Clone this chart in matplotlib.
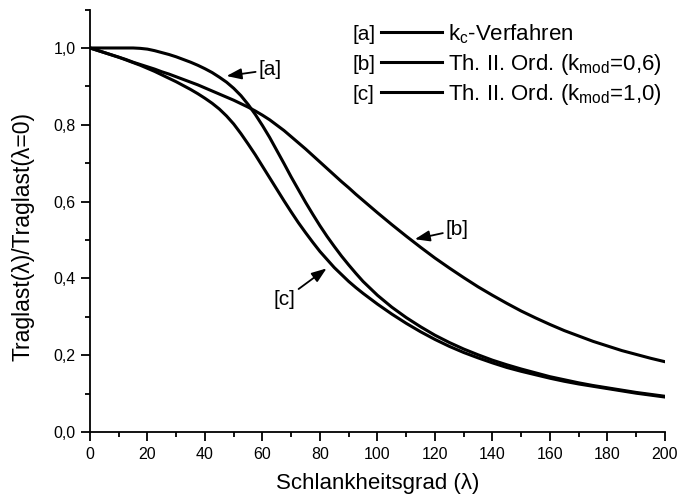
import matplotlib
matplotlib.use('Agg')
import matplotlib.pyplot as plt
from matplotlib.ticker import MultipleLocator

plt.rcParams['font.family'] = ['Liberation Sans', 'DejaVu Sans']
plt.rcParams['mathtext.fontset'] = 'custom'
plt.rcParams['mathtext.rm'] = 'Liberation Sans'
plt.rcParams['mathtext.it'] = 'Liberation Sans:italic'

# Schlankheitsgrad lambda (sample positions, finer where the curves bend)
lam = [0, 2.5, 5, 7.5, 10, 12.5, 15, 17.5, 20, 22.5, 25, 27.5, 30, 32.5, 35,
       37.5, 40, 42.5, 45, 47.5, 50, 52.5, 55, 57.5, 60, 62.5, 65, 67.5, 70,
       72.5, 75, 77.5, 80, 82.5, 85, 87.5, 90, 92.5, 95, 97.5, 100,
       105, 110, 115, 120, 125, 130, 135, 140, 145, 150, 155, 160, 165, 170,
       175, 180, 185, 190, 195, 200]

# [a] k_c-Verfahren
kc = [1.000, 1.000, 1.000, 1.000, 1.000, 1.000, 1.000, 0.999, 0.997, 0.993,
      0.988, 0.983, 0.977, 0.970, 0.963, 0.955, 0.946, 0.936, 0.924, 0.911,
      0.895, 0.876, 0.853, 0.827, 0.798, 0.767, 0.733, 0.699, 0.664, 0.631,
      0.598, 0.567, 0.537, 0.509, 0.483, 0.458, 0.435, 0.413, 0.392, 0.374,
      0.356,
      0.325, 0.298, 0.274, 0.252, 0.233, 0.216, 0.201, 0.187, 0.175, 0.164,
      0.154, 0.144, 0.136, 0.128, 0.121, 0.115, 0.109, 0.103, 0.098, 0.093]
# [b] Th. II. Ord. kmod=0,6
th2_06 = [1.000, 0.994, 0.988, 0.982, 0.976, 0.970, 0.963, 0.957, 0.951, 0.945,
          0.938, 0.932, 0.925, 0.918, 0.911, 0.904, 0.896, 0.888, 0.880, 0.872,
          0.864, 0.855, 0.846, 0.836, 0.825, 0.813, 0.799, 0.785, 0.769, 0.753,
          0.737, 0.720, 0.703, 0.686, 0.669, 0.652, 0.636, 0.619, 0.603, 0.587,
          0.571,
          0.540, 0.510, 0.481, 0.453, 0.427, 0.402, 0.378, 0.356, 0.335, 0.315,
          0.297, 0.280, 0.264, 0.250, 0.236, 0.224, 0.212, 0.202, 0.192, 0.183]
# [c] Th. II. Ord. kmod=1,0
th2_10 = [1.000, 0.994, 0.988, 0.982, 0.976, 0.969, 0.962, 0.955, 0.947, 0.939,
          0.930, 0.921, 0.912, 0.902, 0.892, 0.881, 0.869, 0.856, 0.841, 0.823,
          0.802, 0.777, 0.750, 0.722, 0.692, 0.662, 0.632, 0.602, 0.573, 0.545,
          0.519, 0.494, 0.470, 0.449, 0.428, 0.410, 0.392, 0.376, 0.361, 0.347,
          0.333,
          0.307, 0.283, 0.261, 0.241, 0.223, 0.207, 0.193, 0.180, 0.168, 0.158,
          0.149, 0.140, 0.132, 0.125, 0.119, 0.113, 0.107, 0.101, 0.096, 0.091]

keys = ['[a]', '[b]', '[c]']
labels = [r'k$_\mathrm{c}$-Verfahren',
          r'Th. II. Ord. (k$_\mathrm{mod}$=0,6)',
          r'Th. II. Ord. (k$_\mathrm{mod}$=1,0)']

xticks = [0, 20, 40, 60, 80, 100, 120, 140, 160, 180, 200]
yticks = [0.0, 0.2, 0.4, 0.6, 0.8, 1.0]
yticklabels = ['0,0', '0,2', '0,4', '0,6', '0,8', '1,0']

fig = plt.figure(figsize=(6.79, 4.99), dpi=100)
ax = fig.add_axes([0.1325, 0.1343, 0.8468, 0.8465])

for ys in [kc, th2_06, th2_10]:
    ax.plot(lam, ys, color='black', lw=2.2, solid_joinstyle='round')

ax.set_xlim(0, 200)
ax.set_ylim(0, 1.1)
ax.set_xticks(xticks)
ax.set_xticklabels([str(t) for t in xticks])
ax.set_yticks(yticks)
ax.set_yticklabels(yticklabels)
ax.xaxis.set_minor_locator(MultipleLocator(10))
ax.yaxis.set_minor_locator(MultipleLocator(0.1))

for s in ['top', 'right']:
    ax.spines[s].set_visible(False)
for s in ['left', 'bottom']:
    ax.spines[s].set_linewidth(1.3)

ax.tick_params(which='major', direction='out', length=6.5, width=1.3,
               labelsize=11.5, pad=4)
ax.tick_params(which='minor', direction='out', length=3.5, width=1.3)

ax.set_xlabel('Schlankheitsgrad (λ)', fontsize=16)
ax.set_ylabel('Traglast(λ)/Traglast(λ=0)', fontsize=16.5)
ax.xaxis.set_label_coords(0.5, -0.098)
ax.xaxis.label.set_va('top')
ax.yaxis.set_label_coords(-0.096, 0.462)

# legend, drawn row by row: key, line, text
row_y = [0.942, 0.871, 0.800]
for i in range(3):
    ax.text(0.456, row_y[i], keys[i], transform=ax.transAxes, fontsize=15,
            ha='left', va='center')
    ax.plot([0.507, 0.612], [row_y[i] + 0.004, row_y[i] + 0.004],
            transform=ax.transAxes, color='black', lw=2.2, clip_on=False)
    ax.text(0.6226, row_y[i], labels[i], transform=ax.transAxes, fontsize=16,
            ha='left', va='center')

# curve markers with arrows
arrow = dict(arrowstyle='-|>,head_length=0.6,head_width=0.22', color='black',
             lw=1.3, shrinkA=0, shrinkB=0)
ax.annotate('[a]', xy=(47.5, 0.927), xytext=(62.6, 0.943), fontsize=15,
            ha='center', va='center', arrowprops=arrow)
ax.annotate('[b]', xy=(113.0, 0.502), xytext=(127.7, 0.526), fontsize=15,
            ha='center', va='center', arrowprops=arrow)
ax.annotate('[c]', xy=(82.3, 0.426), xytext=(67.8, 0.346), fontsize=15,
            ha='center', va='center', arrowprops=arrow)

fig.savefig('out.png', dpi=100)
